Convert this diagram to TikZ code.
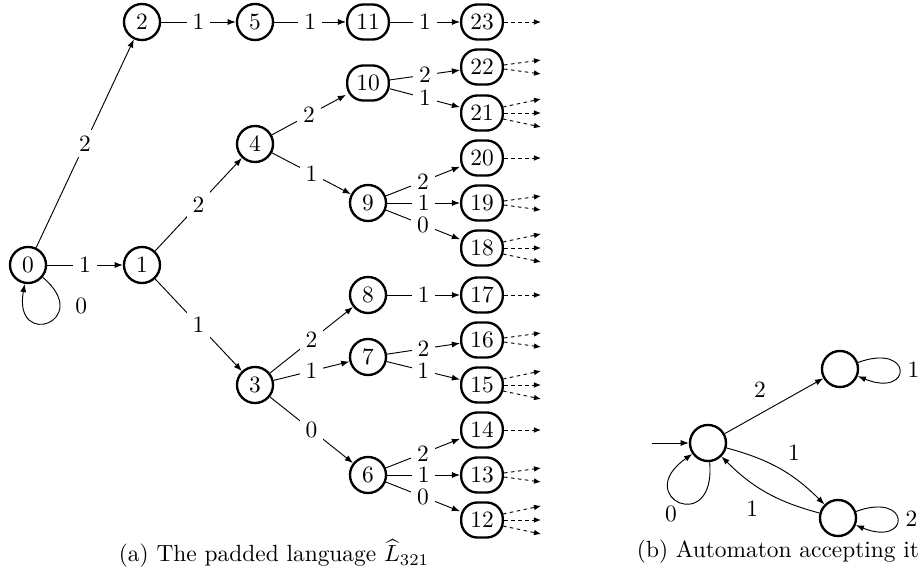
\documentclass[tikz,border=0pt]{standalone}
\usetikzlibrary{arrows.meta,calc}
\begin{document}
\begin{tikzpicture}[x=0.4274pt,y=-0.4274pt,
  st/.style={circle,draw,line width=1pt,minimum size=15.4pt,inner sep=0pt},
  stw/.style={rectangle,rounded corners=7pt,draw,line width=1pt,minimum width=17.8pt,minimum height=15pt,inner sep=0pt},
  tr/.style={-{Latex[length=3.5pt,width=2.6pt]}},
  lb/.style={fill=white,inner sep=2.5pt},
  dd/.style={-{Latex[length=3pt,width=2.4pt]},dash pattern=on 1.5pt off 1.5pt},
]
\useasboundingbox (0,0) rectangle (920,583);
% tree nodes
\node[st] (n0) at (28,265) {0};
\node[st] (n1) at (142,265) {1};
\node[st] (n2) at (142,22) {2};
\node[st] (n5) at (255,22) {5};
\node[st] (n4) at (255,144) {4};
\node[st] (n3) at (255,385) {3};
\node[stw] (n11) at (368,22) {11};
\node[stw] (n10) at (368,83) {10};
\node[st] (n9) at (368,203) {9};
\node[st] (n8) at (368,295) {8};
\node[st] (n7) at (368,357) {7};
\node[st] (n6) at (368,475) {6};
\node[stw] (n23) at (482,22) {23};
\node[stw] (n22) at (482,67) {22};
\node[stw] (n21) at (482,113) {21};
\node[stw] (n20) at (482,158) {20};
\node[stw] (n19) at (482,203) {19};
\node[stw] (n18) at (482,248) {18};
\node[stw] (n17) at (482,295) {17};
\node[stw] (n16) at (482,340) {16};
\node[stw] (n15) at (482,385) {15};
\node[stw] (n14) at (482,430) {14};
\node[stw] (n13) at (482,475) {13};
\node[stw] (n12) at (482,520) {12};
% tree edges
\draw[tr] (n0) -- node[lb] {1} (n1);
\draw[tr] (n0) -- node[lb] {2} (n2);
\draw[tr] (n0) to[out=-40,in=-100,looseness=9] node[pos=0.25,right=3pt] {0} (n0);
\draw[tr] (n2) -- node[lb] {1} (n5);
\draw[tr] (n5) -- node[lb] {1} (n11);
\draw[tr] (n11) -- node[lb] {1} (n23);
\draw[tr] (n1) -- node[lb] {2} (n4);
\draw[tr] (n1) -- node[lb] {1} (n3);
\draw[tr] (n4) -- node[lb] {2} (n10);
\draw[tr] (n4) -- node[lb] {1} (n9);
\draw[tr] (n10) -- node[lb] {2} (n22);
\draw[tr] (n10) -- node[lb] {1} (n21);
\draw[tr] (n9) -- node[lb] {2} (n20);
\draw[tr] (n9) -- node[lb] {1} (n19);
\draw[tr] (n9) -- node[lb] {0} (n18);
\draw[tr] (n3) -- node[lb] {2} (n8);
\draw[tr] (n3) -- node[lb] {1} (n7);
\draw[tr] (n3) -- node[lb] {0} (n6);
\draw[tr] (n8) -- node[lb] {1} (n17);
\draw[tr] (n7) -- node[lb] {2} (n16);
\draw[tr] (n7) -- node[lb] {1} (n15);
\draw[tr] (n6) -- node[lb] {2} (n14);
\draw[tr] (n6) -- node[lb] {1} (n13);
\draw[tr] (n6) -- node[lb] {0} (n12);
% dotted continuations
\foreach \n in {23,20,17,14} {
  \draw[dd] (n\n.east) -- ($(n\n.east)+(37,0)$);
}
\foreach \n in {22,19,16,13} {
  \draw[dd] ($(n\n.east)+(0,-2)$) -- ($(n\n.east)+(37,-7)$);
  \draw[dd] ($(n\n.east)+(0,2)$) -- ($(n\n.east)+(37,7)$);
}
\foreach \n in {21,18,15,12} {
  \draw[dd] ($(n\n.east)+(-1,-6)$) -- ($(n\n.east)+(37,-14)$);
  \draw[dd] (n\n.east) -- ($(n\n.east)+(37,0)$);
  \draw[dd] ($(n\n.east)+(-1,6)$) -- ($(n\n.east)+(37,14)$);
}
% automaton
\node[st] (q0) at (708,443) {};
\node[st] (q1) at (840,369) {};
\node[st] (q2) at (838,518) {};
\coordinate (start) at (652,443);
\draw[tr] (start) -- (q0);
\draw[tr] (q0) -- node[above left] {2} (q1);
\draw[tr] (q0) to[bend left=15] node[above right] {1} (q2);
\draw[tr] (q2) to[bend left=15] node[below left] {1} (q0);
\draw[tr] (q0) to[out=-85,in=-145,looseness=10] node[pos=0.5,below left=-2pt] {0} (q0);
\draw[tr] (q1) to[out=20,in=-22,looseness=11] node[right] {1} (q1);
\draw[tr] (q2) to[out=20,in=-22,looseness=11] node[right] {2} (q2);
% captions
\node[anchor=base,inner sep=0pt] (capa) at (274,562) {(a) The padded language $\widehat{L}_{321}$};
\node[anchor=base,inner sep=0pt] (capb) at (778,558) {(b) Automaton accepting it};
\end{tikzpicture}
\end{document}
